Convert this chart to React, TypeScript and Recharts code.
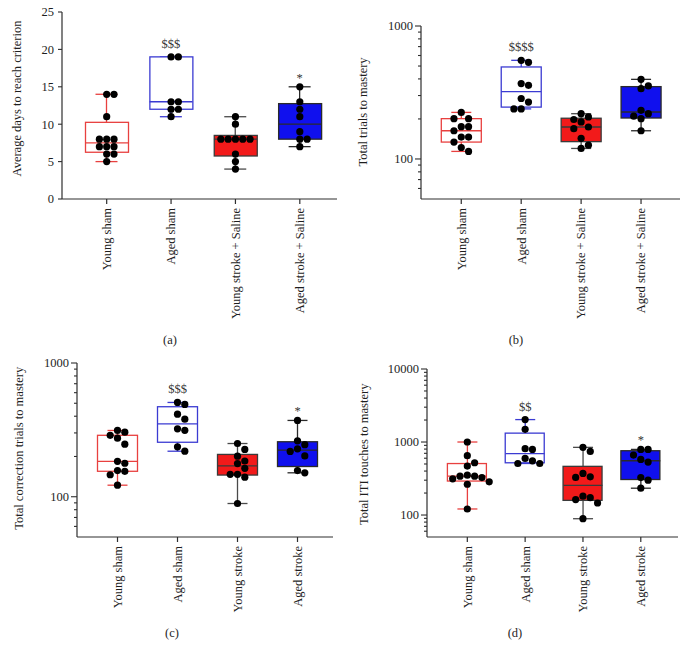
import React from 'react';
import { ComposedChart, Bar, Scatter, XAxis, YAxis, LabelList } from 'recharts';

const FONT = '"Liberation Serif", "Times New Roman", Times, serif';
const AXIS = '#2e2e2e';
const INK = '#1e1e1e';
const DOT_R = 3.6;

// nombres de grupo en el eje x
const GROUPS_SALINE = ['Young sham', 'Aged sham', 'Young stroke + Saline', 'Aged stroke + Saline'];
const GROUPS_STROKE = ['Young sham', 'Aged sham', 'Young stroke', 'Aged stroke'];

// (a) average days to reach criterion
const daysYoungSham = [14, 14, 11, 8, 8, 8, 7, 7, 7, 6, 6, 5];
const daysAgedSham = [19, 19, 13, 13, 12, 12, 11];
const daysYoungStroke = [11, 10, 8, 8, 8, 8, 8, 6, 5, 4];
const daysAgedStroke = [15, 13, 12, 11, 9, 8, 8, 7];
const daysSig = ['', '$$$', '', '*'];

// (b) total trials to mastery
const trialsYoungSham = [224, 201, 201, 175, 175, 163, 146, 146, 134, 122, 114];
const trialsAgedSham = [552, 533, 369, 358, 285, 268, 238, 238];
const trialsYoungStroke = [219, 207, 198, 190, 174, 169, 143, 127, 120];
const trialsAgedStroke = [397, 354, 338, 232, 219, 210, 201, 163];
const trialsSig = ['', '$$$$', '', ''];

// (c) total correction trials to mastery
const corrYoungSham = [313, 304, 288, 274, 247, 184, 178, 157, 155, 146, 122];
const corrAgedSham = [507, 490, 414, 380, 322, 314, 236, 219];
const corrYoungStroke = [250, 226, 201, 185, 177, 163, 147, 147, 140, 89];
const corrAgedStroke = [372, 262, 245, 228, 218, 202, 157, 151];
const corrSig = ['', '$$$', '', '*'];

// (d) total ITI touches to mastery
const itiYoungSham = [1000, 649, 520, 468, 351, 340, 340, 326, 313, 285, 264, 121];
const itiAgedSham = [2028, 1494, 810, 792, 595, 553, 508, 508];
const itiYoungStroke = [845, 744, 371, 334, 327, 181, 173, 163, 146, 89];
const itiAgedStroke = [792, 792, 662, 577, 531, 326, 300, 233];
const itiSig = ['', '$$', '', '*'];

// ticks
const linTicks = [0, 5, 10, 15, 20, 25];
const ticks1000 = [60, 70, 80, 90, 100, 200, 300, 400, 500, 600, 700, 800, 900, 1000];
const ticks10000 = [...ticks1000, 2000, 3000, 4000, 5000, 6000, 7000, 8000, 9000, 10000];
const majors1000 = [100, 1000];
const majors10000 = [100, 1000, 10000];

const GROUP_STYLE = [
  { fill: '#ffffff', stroke: '#e8403f', whisker: '#e8403f', median: '#e8403f' },
  { fill: '#ffffff', stroke: '#3b3bd2', whisker: '#3b3bd2', median: '#3b3bd2' },
  { fill: '#f21a1a', stroke: '#3a3a3a', whisker: '#4a4a4a', median: '#3a3a3a' },
  { fill: '#1010ee', stroke: '#2a2a2a', whisker: '#2a2a2a', median: '#2a2a2a' },
];

// cuartiles estilo Prism: posición (n + 1) * p
function quant(sorted: number[], p: number) {
  const pos = (sorted.length + 1) * p;
  const lo = Math.floor(pos);
  if (lo < 1) return sorted[0];
  if (lo >= sorted.length) return sorted[sorted.length - 1];
  return sorted[lo - 1] + (pos - lo) * (sorted[lo] - sorted[lo - 1]);
}

// reparto horizontal sencillo de puntos que se tocan
function swarm(values: number[], norm: (v: number) => number, thresh: number) {
  const placed: { t: number; slot: number }[] = [];
  return values.map((v) => {
    const t = norm(v);
    for (let k = 0; k < 20; k++) {
      const slot = k === 0 ? 0 : k % 2 === 1 ? (k + 1) / 2 : -k / 2;
      if (!placed.some((p) => p.slot === slot && Math.abs(p.t - t) < thresh)) {
        placed.push({ t, slot });
        return slot;
      }
    }
    return 0;
  });
}

const PANELS = [
  {
    tag: '(a)', title: 'Average days to reach criterion', groups: GROUPS_SALINE,
    values: [daysYoungSham, daysAgedSham, daysYoungStroke, daysAgedStroke], sig: daysSig,
    log: false, domain: [0, 25], ticks: linTicks, majors: linTicks, majorLen: 4,
    left: 0, top: 0, width: 345, height: 350, margin: { top: 12, right: 8, bottom: 0, left: 0 },
    yWidth: 62, xHeight: 151, padL: 12.5, padR: 5, titleAt: [16.5, 98.5], tagAt: [170, 340],
  },
  {
    tag: '(b)', title: 'Total trials to mastery', groups: GROUPS_SALINE,
    values: [trialsYoungSham, trialsAgedSham, trialsYoungStroke, trialsAgedStroke], sig: trialsSig,
    log: true, domain: [50, 1000], ticks: ticks1000, majors: majors1000, majorLen: 6,
    left: 345, top: 0, width: 345, height: 350, margin: { top: 26, right: 10, bottom: 0, left: 0 },
    yWidth: 76, xHeight: 151, padL: 10.3, padR: 9, titleAt: [17.5, 112], tagAt: [171, 340],
  },
  {
    tag: '(c)', title: 'Total correction trials to mastery', groups: GROUPS_STROKE,
    values: [corrYoungSham, corrAgedSham, corrYoungStroke, corrAgedStroke], sig: corrSig,
    log: true, domain: [50, 1000], ticks: ticks1000, majors: majors1000, majorLen: 6,
    left: 0, top: 330, width: 345, height: 330, margin: { top: 33, right: 12, bottom: 0, left: 0 },
    yWidth: 77, xHeight: 123, padL: 10.5, padR: 5.5, titleAt: [18.7, 118.3], tagAt: [172, 303],
  },
  {
    tag: '(d)', title: 'Total ITI touches to mastery', groups: GROUPS_STROKE,
    values: [itiYoungSham, itiAgedSham, itiYoungStroke, itiAgedStroke], sig: itiSig,
    log: true, domain: [50, 10000], ticks: ticks10000, majors: majors10000, majorLen: 6,
    left: 345, top: 330, width: 345, height: 330, margin: { top: 39, right: 12, bottom: 0, left: 0 },
    yWidth: 82, xHeight: 123, padL: 11.4, padR: 8.3, titleAt: [18.8, 124.3], tagAt: [170, 303],
  },
];

const textStyle = { fontFamily: FONT, fontSize: 12.5, fill: INK };

// el texto gira -90 y termina justo debajo del eje
const XTick = (props: any) => {
  const { x, payload, axisY } = props;
  const ty = axisY + 9;
  return (
    <g>
      <line x1={x} x2={x} y1={axisY} y2={axisY + 5} stroke={AXIS} strokeWidth={1.2} />
      <text x={x} y={ty} dy="0.35em" textAnchor="end" transform={`rotate(-90, ${x}, ${ty})`} {...textStyle}>
        {payload.value}
      </text>
    </g>
  );
};

const YTick = (props: any) => {
  const { x, y, payload, majors, majorLen } = props;
  const major = majors.includes(payload.value);
  return (
    <g>
      <line x1={x - (major ? majorLen : 3)} x2={x} y1={y} y2={y} stroke={AXIS} strokeWidth={1.1} />
      {major && (
        <text x={x - 8} y={y} dy="0.35em" textAnchor="end" {...textStyle}>
          {payload.value}
        </text>
      )}
    </g>
  );
};

const Whisker = (props: any) => {
  const { x, y, width, height, payload, index } = props;
  const s = GROUP_STYLE[payload?.idx ?? index];
  const cx = x + width / 2;
  return (
    <g stroke={s.whisker} strokeWidth={1.3}>
      <line x1={cx} x2={cx} y1={y} y2={y + height} />
      <line x1={x} x2={x + width} y1={y} y2={y} />
      <line x1={x} x2={x + width} y1={y + height} y2={y + height} />
    </g>
  );
};

const BoxRect = (props: any) => {
  const { x, y, width, height, payload, index } = props;
  const s = GROUP_STYLE[payload?.idx ?? index];
  return <rect x={x} y={y} width={width} height={height} fill={s.fill} stroke={s.stroke} strokeWidth={1.3} />;
};

const SigLabel = (props: any) => {
  const vb = props.viewBox ?? props;
  const { value } = props;
  if (!value) return null;
  const lift = String(value).includes('$') ? 9 : 5;
  return (
    <text x={vb.x + vb.width / 2} y={vb.y - lift} textAnchor="middle" {...textStyle} fill="#333">
      {value}
    </text>
  );
};

function BoxPanel({ spec }: { spec: any }) {
  const { margin, yWidth, xHeight, width, height, padL, padR, domain } = spec;
  const n = spec.groups.length;
  const plotW = width - margin.left - margin.right - yWidth;
  const plotH = height - margin.top - margin.bottom - xHeight;
  const axisY = margin.top + plotH;
  const band = (plotW - padL - padR) / n;
  const boxW = Math.round(band * 0.67);
  const capW = Math.round(band * 0.34);
  const [d0, d1] = domain;
  const norm = spec.log
    ? (v: number) => Math.log10(v / d0) / Math.log10(d1 / d0)
    : (v: number) => (v - d0) / (d1 - d0);
  const step = 7.3 / band;
  const thresh = (DOT_R * 2) / plotH;

  const rows = spec.groups.map((name: string, i: number) => {
    const s = [...spec.values[i]].sort((a, b) => a - b);
    return { name, idx: i, range: [s[0], s[s.length - 1]], box: [quant(s, 0.25), quant(s, 0.75)], sig: spec.sig[i] };
  });
  const medians = spec.groups.map((_: string, i: number) => {
    const s = [...spec.values[i]].sort((a, b) => a - b);
    return { x: i + 0.5, y: quant(s, 0.5), idx: i };
  });
  const dots = spec.values.flatMap((vals: number[], i: number) => {
    const slots = swarm(vals, norm, thresh);
    return vals.map((v, j) => ({ x: i + 0.5 + slots[j] * step, y: v }));
  });

  const pad = { left: padL, right: padR };
  const [tx, ty] = spec.titleAt;
  const [gx, gy] = spec.tagAt;

  return (
    <div style={{ position: 'absolute', left: spec.left, top: spec.top }}>
      <ComposedChart width={width} height={height} margin={margin} data={rows}>
        <XAxis
          xAxisId="cat"
          dataKey="name"
          type="category"
          interval={0}
          padding={pad}
          height={xHeight}
          axisLine={{ stroke: AXIS, strokeWidth: 1.2 }}
          tickLine={false}
          tickSize={0}
          tickMargin={0}
          tick={(p: any) => <XTick {...p} axisY={axisY} />}
          label={() => (
            <text x={gx} y={gy} dy="0.35em" textAnchor="middle" {...textStyle}>
              {spec.tag}
            </text>
          )}
        />
        <XAxis xAxisId="box" dataKey="name" type="category" padding={pad} height={0} hide />
        <XAxis xAxisId="num" dataKey="x" type="number" domain={[0, n]} padding={pad} height={0} allowDataOverflow hide />
        <YAxis
          type="number"
          scale={spec.log ? 'log' : 'linear'}
          domain={domain}
          ticks={spec.ticks}
          interval={0}
          allowDataOverflow
          width={yWidth}
          axisLine={{ stroke: AXIS, strokeWidth: 1.2 }}
          tickLine={false}
          tickSize={0}
          tickMargin={0}
          tick={(p: any) => <YTick {...p} majors={spec.majors} majorLen={spec.majorLen} />}
          label={() => (
            <text x={tx} y={ty} dy="0.35em" textAnchor="middle" transform={`rotate(-90, ${tx}, ${ty})`} {...textStyle}>
              {spec.title}
            </text>
          )}
        />
        <Bar xAxisId="cat" dataKey="range" barSize={capW} isAnimationActive={false} shape={(p: any) => <Whisker {...p} />}>
          <LabelList dataKey="sig" content={(p: any) => <SigLabel {...p} />} />
        </Bar>
        <Bar xAxisId="box" dataKey="box" barSize={boxW} isAnimationActive={false} shape={(p: any) => <BoxRect {...p} />} />
        <Scatter
          xAxisId="num"
          data={medians}
          dataKey="y"
          isAnimationActive={false}
          shape={(p: any) => {
            const s = GROUP_STYLE[p.payload.idx];
            return <line x1={p.cx - boxW / 2} x2={p.cx + boxW / 2} y1={p.cy} y2={p.cy} stroke={s.median} strokeWidth={1.3} />;
          }}
        />
        <Scatter
          xAxisId="num"
          data={dots}
          dataKey="y"
          isAnimationActive={false}
          shape={(p: any) => <circle cx={p.cx} cy={p.cy} r={DOT_R} fill="#000" />}
        />
      </ComposedChart>
    </div>
  );
}

export default function App() {
  return (
    <div style={{ position: 'absolute', left: 0, top: 0, width: 690, height: 660, background: '#fff' }}>
      {PANELS.map((spec) => (
        <BoxPanel key={spec.tag} spec={spec} />
      ))}
    </div>
  );
}
